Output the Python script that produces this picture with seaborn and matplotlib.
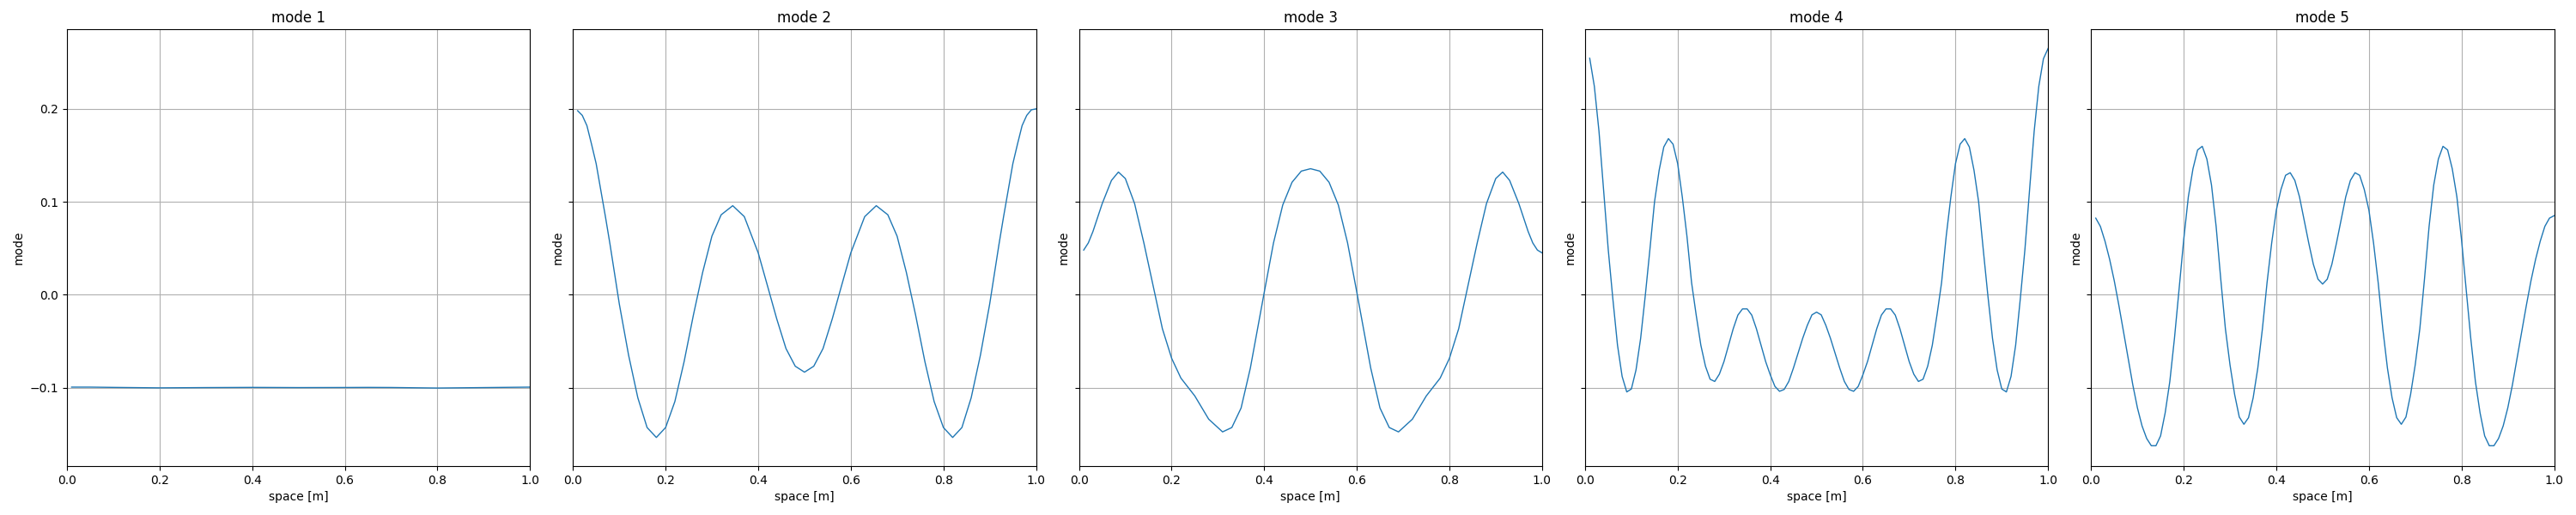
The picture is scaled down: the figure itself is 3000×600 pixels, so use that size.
import matplotlib
matplotlib.use("Agg")
import matplotlib.pyplot as plt
import seaborn as sns
import pandas as pd

# mode shapes (space in m, value)
x_mode1 = [0.01, 0.05, 0.1, 0.2, 0.3, 0.4, 0.5, 0.6, 0.65, 0.7, 0.8, 0.9, 1.0]
y_mode1 = [-0.0995, -0.0995, -0.0998, -0.1003, -0.1, -0.0998, -0.1, -0.0999, -0.0998, -0.0999, -0.1005, -0.1, -0.0995]

x_mode2 = [0.01, 0.02, 0.03, 0.04, 0.05, 0.06, 0.07, 0.08, 0.10, 0.12, 0.14, 0.16, 0.18, 0.20,
           0.22, 0.24, 0.26, 0.28, 0.30, 0.32, 0.345, 0.37, 0.40, 0.42, 0.44, 0.46, 0.48, 0.50,
           0.52, 0.54, 0.56, 0.58, 0.60, 0.63, 0.655, 0.68, 0.70, 0.72, 0.74, 0.76, 0.78, 0.80,
           0.82, 0.84, 0.86, 0.88, 0.90, 0.92, 0.93, 0.94, 0.95, 0.96, 0.97, 0.98, 0.99, 1.0]
y_mode2 = [0.198, 0.193, 0.182, 0.162, 0.141, 0.1125, 0.084, 0.054, -0.010, -0.065, -0.111, -0.143, -0.1537, -0.143,
           -0.115, -0.072, -0.022, 0.024, 0.063, 0.086, 0.0958, 0.084, 0.045, 0.0096, -0.026, -0.058, -0.077, -0.0834,
           -0.077, -0.058, -0.026, 0.0096, 0.045, 0.084, 0.0958, 0.086, 0.063, 0.024, -0.022, -0.072, -0.115, -0.143,
           -0.1537, -0.143, -0.111, -0.065, -0.010, 0.054, 0.084, 0.1125, 0.141, 0.162, 0.182, 0.193, 0.199, 0.200]

x_mode3 = [0.01, 0.02, 0.03, 0.05, 0.07, 0.085, 0.10, 0.12, 0.14, 0.16, 0.18, 0.20, 0.22, 0.25,
           0.28, 0.31, 0.33, 0.35, 0.37, 0.40, 0.42, 0.44, 0.46, 0.48, 0.50, 0.52, 0.54, 0.56,
           0.58, 0.60, 0.63, 0.65, 0.67, 0.69, 0.72, 0.75, 0.78, 0.80, 0.82, 0.84, 0.86, 0.88,
           0.90, 0.915, 0.93, 0.95, 0.97, 0.98, 0.99, 1.0]
y_mode3 = [0.048, 0.0557, 0.068, 0.098, 0.123, 0.132, 0.125, 0.098, 0.0557, 0.0096, -0.0366, -0.0685, -0.0898, -0.109,
           -0.134, -0.1477, -0.143, -0.122, -0.079, 0.0025, 0.0557, 0.0966, 0.121, 0.133, 0.1356, 0.133, 0.121, 0.0966,
           0.0557, 0.0025, -0.079, -0.122, -0.143, -0.1477, -0.134, -0.109, -0.0898, -0.0685, -0.0366, 0.0096, 0.0557, 0.098,
           0.125, 0.132, 0.123, 0.098, 0.068, 0.0557, 0.048, 0.045]

x_mode4 = [0.01, 0.02, 0.03, 0.04, 0.05, 0.06, 0.07, 0.08, 0.09, 0.10, 0.11, 0.12, 0.13, 0.14, 0.15,
           0.16, 0.17, 0.18, 0.19, 0.20, 0.21, 0.22, 0.23, 0.24, 0.25, 0.26, 0.27, 0.28, 0.29, 0.30,
           0.31, 0.32, 0.33, 0.34, 0.35, 0.36, 0.37, 0.38, 0.39, 0.40, 0.41, 0.42, 0.43, 0.44, 0.45,
           0.46, 0.47, 0.48, 0.49, 0.50, 0.51, 0.52, 0.53, 0.54, 0.55, 0.56, 0.57, 0.58, 0.59, 0.60,
           0.61, 0.62, 0.63, 0.64, 0.65, 0.66, 0.67, 0.68, 0.69, 0.70, 0.71, 0.72, 0.73, 0.74, 0.75,
           0.76, 0.77, 0.78, 0.79, 0.80, 0.81, 0.82, 0.83, 0.84, 0.85, 0.86, 0.87, 0.88, 0.89, 0.90,
           0.91, 0.92, 0.93, 0.94, 0.95, 0.96, 0.97, 0.98, 0.99, 1.0]
y_mode4 = [0.2545, 0.2243, 0.176, 0.1125, 0.0486, -0.0046, -0.0543, -0.088, -0.1047, -0.1015,
           -0.081, -0.047, -0.001, 0.0486, 0.100, 0.134, 0.159, 0.168, 0.162, 0.141,
           0.105, 0.063, 0.013, -0.022, -0.0543, -0.077, -0.091, -0.0934, -0.0856, -0.072,
           -0.0543, -0.0366, -0.022, -0.0153, -0.0153, -0.022, -0.0366, -0.0543, -0.072, -0.0863,
           -0.0987, -0.104, -0.102, -0.0934, -0.079, -0.063, -0.047, -0.033, -0.0217, -0.0188,
           -0.0217, -0.033, -0.047, -0.063, -0.079, -0.0934, -0.102, -0.104, -0.0987, -0.0863,
           -0.072, -0.0543, -0.0366, -0.022, -0.0153, -0.0153, -0.022, -0.0366, -0.0543, -0.072,
           -0.0856, -0.0934, -0.091, -0.077, -0.0543, -0.022, 0.013, 0.063, 0.105, 0.141,
           0.162, 0.168, 0.159, 0.134, 0.100, 0.0486, -0.001, -0.047, -0.081, -0.1015,
           -0.1047, -0.088, -0.0543, -0.0046, 0.0486, 0.1125, 0.176, 0.2243, 0.254, 0.265]

x_mode5 = x_mode4
y_mode5 = [0.0824, 0.0735, 0.0575, 0.038, 0.0149, -0.0117, -0.040, -0.0685, -0.097, -0.1218,
           -0.1413, -0.1548, -0.1626, -0.1626, -0.152, -0.127, -0.0934, -0.047, 0.006, 0.0593,
           0.1054, 0.1356, 0.1558, 0.1597, 0.146, 0.118, 0.0735, 0.0167, -0.0366, -0.0756,
           -0.1075, -0.1317, -0.1395, -0.1324, -0.111, -0.079, -0.0366, 0.013, 0.0557, 0.091,
           0.1132, 0.1285, 0.1313, 0.123, 0.1054, 0.0806, 0.0557, 0.0327, 0.0167, 0.0114,
           0.0167, 0.0327, 0.0557, 0.0806, 0.1054, 0.123, 0.1313, 0.1285, 0.1132, 0.091,
           0.0557, 0.013, -0.0366, -0.079, -0.111, -0.1324, -0.1395, -0.1317, -0.1075, -0.0756,
           -0.0366, 0.0167, 0.0735, 0.118, 0.146, 0.1597, 0.1558, 0.1356, 0.1054, 0.0593,
           0.006, -0.047, -0.0934, -0.127, -0.152, -0.1626, -0.1626, -0.1548, -0.1413, -0.1218,
           -0.097, -0.0685, -0.040, -0.0117, 0.0149, 0.038, 0.0575, 0.0735, 0.0824, 0.085]

modes = [(x_mode1, y_mode1), (x_mode2, y_mode2), (x_mode3, y_mode3),
         (x_mode4, y_mode4), (x_mode5, y_mode5)]
titles = ["mode 1", "mode 2", "mode 3", "mode 4", "mode 5"]


def main():
    fig, axes = plt.subplots(1, 5, figsize=(30, 6), dpi=100, sharey=True)
    for ax, (xs, ys), title in zip(axes, modes, titles):
        df = pd.DataFrame({"space": xs, "mode": ys})
        sns.lineplot(data=df, x="space", y="mode", ax=ax, color="#1f77b4", linewidth=1)
        ax.set_title(title)
        ax.set_xlabel("space [m]")
        ax.set_ylabel("mode")
        ax.yaxis.label.set_visible(True)
        ax.yaxis.set_tick_params(labelleft=(ax is axes[0]))
        ax.set_xlim(0, 1)
        ax.grid(True)
    axes[0].set_ylim(-0.1845, 0.2856)
    axes[0].set_yticks([-0.1, 0.0, 0.1, 0.2])

    plt.subplots_adjust(left=0.026, right=0.9915, bottom=0.095, top=0.943, wspace=0.093)
    plt.savefig("out.png")


if __name__ == '__main__':
    main()
